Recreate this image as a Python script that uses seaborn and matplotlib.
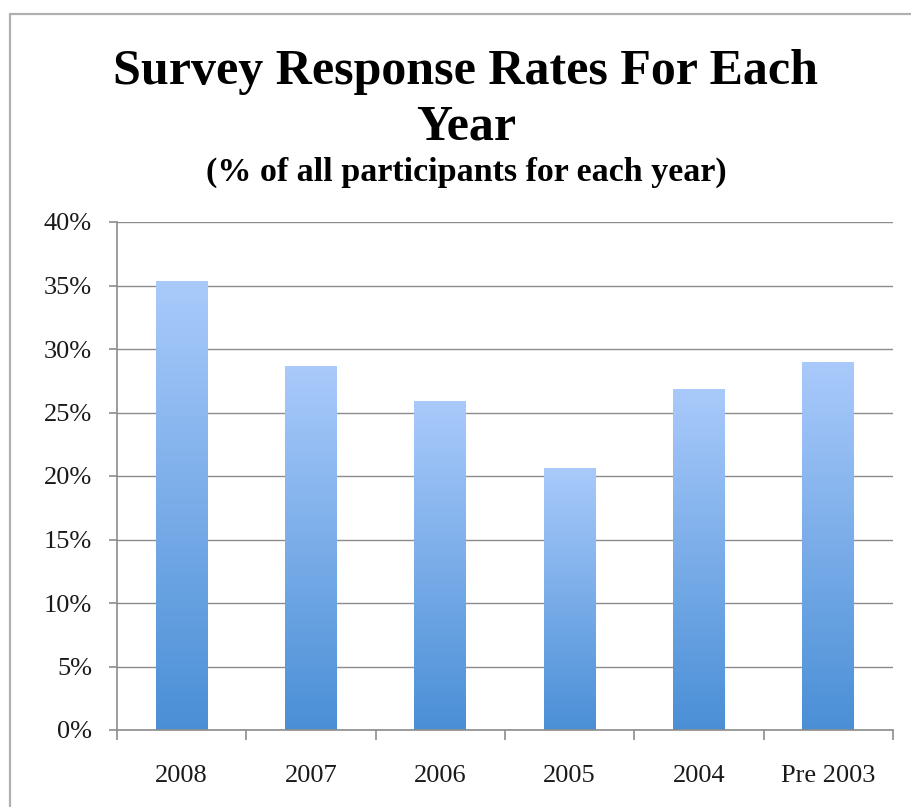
import numpy as np
import pandas as pd
import matplotlib
matplotlib.use("Agg")
import matplotlib.pyplot as plt
from matplotlib.colors import LinearSegmentedColormap
from matplotlib.lines import Line2D
from matplotlib.ticker import FixedLocator, PercentFormatter
import seaborn as sns

years = ["2008", "2007", "2006", "2005", "2004", "Pre 2003"]
rates = [0.353, 0.286, 0.259, 0.206, 0.268, 0.289]
yticks = [0.0, 0.05, 0.10, 0.15, 0.20, 0.25, 0.30, 0.35, 0.40]

title_lines = ["Survey Response Rates For Each", "Year"]
subtitle = "(% of all participants for each year)"

sns.set_theme(style="white")
plt.rcParams["font.family"] = ["Liberation Serif", "DejaVu Serif"]

W, H = 911, 807
fig = plt.figure(figsize=(W / 100, H / 100), dpi=100)
ax = fig.add_axes([117 / W, 1 - 730 / H, (893 - 117) / W, (730 - 222) / H])

df = pd.DataFrame({"year": years, "rate": rates})
sns.barplot(data=df, x="year", y="rate", width=0.4, color="#6fa3e6", ax=ax, zorder=2)

cmap = LinearSegmentedColormap.from_list("grad", ["#4a8fd6", "#a9cafb"])
grad = np.linspace(0, 1, 256).reshape(-1, 1)
for p in ax.patches:
    x0, w, h = p.get_x(), p.get_width(), p.get_height()
    p.set_facecolor("none")
    p.set_edgecolor("none")
    ax.imshow(grad, cmap=cmap, origin="lower", aspect="auto",
              extent=[x0, x0 + w, 0, h], zorder=2, interpolation="bilinear")

ax.set_xlim(-0.5, len(years) - 0.5)
ax.set_ylim(0, 0.40)
ax.set_yticks(yticks)
ax.yaxis.set_major_formatter(PercentFormatter(1.0, decimals=0))
ax.yaxis.grid(True, color="#8c8c8c", linewidth=1.0, zorder=0)
ax.set_axisbelow(True)
ax.set_xlabel("")
ax.set_ylabel("")

for s in ["top", "right"]:
    ax.spines[s].set_visible(False)
for s in ["left", "bottom"]:
    ax.spines[s].set_color("#8c8c8c")
    ax.spines[s].set_linewidth(1.2)

ax.tick_params(axis="y", which="major", left=True, length=6, width=1.2,
               color="#8c8c8c", pad=12, labelsize=19, labelcolor="#1a1a1a")
ax.tick_params(axis="x", which="major", bottom=False, length=0, pad=25,
               labelsize=19, labelcolor="#1a1a1a")
ax.xaxis.set_minor_locator(FixedLocator(np.arange(-0.5, len(years), 1.0)))
ax.tick_params(axis="x", which="minor", bottom=True, length=7, width=1.2,
               color="#8c8c8c", direction="out")

fig.text(466 / W, 1 - 84 / H, title_lines[0], ha="center", va="baseline",
         fontsize=36, fontweight="bold", color="black")
fig.text(466 / W, 1 - 140 / H, title_lines[1], ha="center", va="baseline",
         fontsize=36, fontweight="bold", color="black")
fig.text(466 / W, 1 - 181 / H, subtitle, ha="center", va="baseline",
         fontsize=24.5, fontweight="bold", color="black")

fig.add_artist(Line2D([10 / W, 10 / W], [0, 1 - 14 / H], color="#b0b0b0", lw=1.6))
fig.add_artist(Line2D([10 / W, 1], [1 - 14 / H, 1 - 14 / H], color="#b0b0b0", lw=1.6))

fig.savefig("out.png", dpi=100)
